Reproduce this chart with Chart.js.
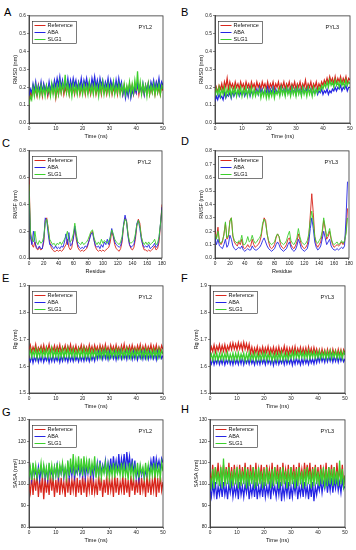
<!DOCTYPE html>
<html>
<head>
<meta charset="utf-8">
<script src="https://cdn.jsdelivr.net/npm/chart.js@4.4.1/dist/chart.umd.min.js"></script>
<style>
  body { margin: 0; width: 356px; height: 550px; background: #fff; position: relative; overflow: hidden;
         font-family: "Liberation Sans", Arial, sans-serif; }
  canvas { position: absolute; }
  .tag { position: absolute; font-size: 11px; line-height: 12px; color: #000; }
</style>
</head>
<body>
<div class="tag" style="left:4px;top:6px">A</div>
<div class="tag" style="left:181px;top:6px">B</div>
<div class="tag" style="left:2px;top:137px">C</div>
<div class="tag" style="left:181px;top:135px">D</div>
<div class="tag" style="left:2px;top:272px">E</div>
<div class="tag" style="left:181px;top:272px">F</div>
<div class="tag" style="left:2px;top:406px">G</div>
<div class="tag" style="left:181px;top:403px">H</div>
<script>
// Series names / colours
var seriesNames = ['Reference', 'ABA', 'SLG1'];
var seriesColors = ['#d8261c', '#2424e4', '#3ccf2c'];

// Time axis (ns)
var timeNs = [0,0.5,1,1.5,2,2.5,3,3.5,4,4.5,5,5.5,6,6.5,7,7.5,8,8.5,9,9.5,
  10,10.5,11,11.5,12,12.5,13,13.5,14,14.5,15,15.5,16,16.5,17,17.5,18,18.5,19,19.5,
  20,20.5,21,21.5,22,22.5,23,23.5,24,24.5,25,25.5,26,26.5,27,27.5,28,28.5,29,29.5,
  30,30.5,31,31.5,32,32.5,33,33.5,34,34.5,35,35.5,36,36.5,37,37.5,38,38.5,39,39.5,
  40,40.5,41,41.5,42,42.5,43,43.5,44,44.5,45,45.5,46,46.5,47,47.5,48,48.5,49,49.5,50];

// Residue axes
var residC = [0,2,4,6,8,10,12,14,16,18,20,22,24,26,28,30,32,34,36,38,40,42,44,46,48,50,
  52,54,56,58,60,62,64,66,68,70,72,74,76,78,80,82,84,86,88,90,92,94,96,98,100,102,104,
  106,108,110,112,114,116,118,120,122,124,126,128,130,132,134,136,138,140,142,144,146,
  148,150,152,154,156,158,160,162,164,166,168,170,172,174,176,178,180];
var residD = [0,2,4,6,8,10,12,14,16,18,20,22,24,26,28,30,32,34,36,38,40,42,44,46,48,50,
  52,54,56,58,60,62,64,66,68,70,72,74,76,78,80,82,84,86,88,90,92,94,96,98,100,102,104,
  106,108,110,112,114,116,118,120,122,124,126,128,130,132,134,136,138,140,142,144,146,
  148,150,152,154,156,158,160,162,164,166,168,170,172,174,176,178];

// A: RMSD PYL2
var rmsdPyl2Ref = [0.10,0.17,0.15,0.20,0.16,0.19,0.15,0.21,0.16,0.20,
  0.15,0.21,0.17,0.20,0.15,0.19,0.16,0.21,0.17,0.20,
  0.14,0.20,0.16,0.21,0.17,0.22,0.16,0.20,0.17,0.21,
  0.16,0.22,0.17,0.20,0.16,0.21,0.17,0.22,0.16,0.20,
  0.17,0.21,0.16,0.22,0.17,0.20,0.16,0.21,0.17,0.22,
  0.16,0.20,0.17,0.21,0.16,0.22,0.17,0.20,0.16,0.21,
  0.17,0.22,0.16,0.20,0.17,0.21,0.16,0.22,0.17,0.20,
  0.16,0.21,0.17,0.20,0.16,0.22,0.17,0.21,0.16,0.20,
  0.17,0.22,0.16,0.21,0.17,0.20,0.16,0.21,0.17,0.22,
  0.16,0.20,0.17,0.21,0.16,0.22,0.17,0.20,0.16,0.21,0.18];
var rmsdPyl2Aba = [0.15,0.19,0.17,0.22,0.18,0.23,0.17,0.21,0.18,0.23,
  0.17,0.22,0.18,0.21,0.17,0.23,0.18,0.22,0.19,0.24,
  0.20,0.25,0.21,0.26,0.20,0.24,0.19,0.23,0.20,0.25,
  0.19,0.24,0.20,0.25,0.21,0.24,0.19,0.23,0.20,0.25,
  0.19,0.24,0.21,0.25,0.20,0.23,0.19,0.25,0.21,0.26,
  0.20,0.24,0.19,0.25,0.21,0.24,0.19,0.23,0.20,0.25,
  0.19,0.24,0.20,0.23,0.18,0.24,0.19,0.25,0.20,0.23,
  0.16,0.20,0.14,0.19,0.15,0.21,0.14,0.18,0.16,0.20,
  0.17,0.22,0.18,0.21,0.17,0.22,0.16,0.21,0.18,0.22,
  0.18,0.23,0.20,0.24,0.19,0.23,0.20,0.25,0.19,0.23,0.21];
var rmsdPyl2Slg = [0.10,0.15,0.13,0.20,0.15,0.21,0.16,0.20,0.15,0.21,
  0.16,0.20,0.15,0.21,0.17,0.20,0.15,0.22,0.16,0.21,
  0.15,0.21,0.16,0.23,0.17,0.22,0.18,0.27,0.17,0.22,
  0.16,0.21,0.15,0.22,0.17,0.21,0.16,0.22,0.17,0.21,
  0.16,0.22,0.17,0.21,0.16,0.23,0.17,0.21,0.16,0.22,
  0.17,0.21,0.15,0.22,0.17,0.23,0.16,0.21,0.17,0.22,
  0.16,0.21,0.17,0.23,0.16,0.21,0.17,0.22,0.16,0.21,
  0.17,0.22,0.16,0.21,0.17,0.23,0.16,0.22,0.17,0.24,
  0.18,0.29,0.17,0.23,0.16,0.22,0.17,0.21,0.15,0.22,
  0.16,0.21,0.17,0.22,0.16,0.21,0.17,0.22,0.16,0.21,0.19];

// B: RMSD PYL3
var rmsdPyl3Ref = [0.16,0.20,0.17,0.21,0.19,0.22,0.18,0.23,0.20,0.25,
  0.19,0.23,0.20,0.22,0.19,0.23,0.20,0.22,0.19,0.23,
  0.20,0.22,0.19,0.23,0.20,0.22,0.19,0.23,0.20,0.22,
  0.19,0.23,0.20,0.22,0.19,0.23,0.20,0.22,0.19,0.23,
  0.19,0.22,0.20,0.23,0.19,0.22,0.20,0.23,0.19,0.22,
  0.20,0.23,0.19,0.22,0.20,0.23,0.19,0.22,0.20,0.23,
  0.19,0.22,0.20,0.23,0.19,0.22,0.20,0.24,0.19,0.22,
  0.20,0.23,0.19,0.22,0.20,0.23,0.19,0.22,0.20,0.23,
  0.21,0.24,0.22,0.25,0.22,0.26,0.23,0.25,0.22,0.26,
  0.22,0.25,0.23,0.26,0.22,0.25,0.23,0.26,0.22,0.25,0.24];
var rmsdPyl3Aba = [0.12,0.15,0.13,0.16,0.14,0.15,0.13,0.17,0.14,0.16,
  0.15,0.17,0.14,0.18,0.15,0.17,0.16,0.18,0.15,0.17,
  0.16,0.18,0.15,0.17,0.16,0.19,0.15,0.18,0.16,0.17,
  0.17,0.19,0.16,0.20,0.17,0.19,0.16,0.18,0.17,0.20,
  0.16,0.19,0.17,0.20,0.16,0.19,0.17,0.18,0.16,0.20,
  0.17,0.19,0.16,0.20,0.17,0.19,0.16,0.20,0.17,0.19,
  0.16,0.20,0.17,0.19,0.16,0.20,0.17,0.19,0.18,0.20,
  0.17,0.19,0.16,0.18,0.17,0.19,0.16,0.18,0.17,0.19,
  0.16,0.18,0.17,0.19,0.16,0.18,0.17,0.19,0.18,0.20,
  0.18,0.20,0.19,0.21,0.18,0.20,0.19,0.21,0.18,0.20,0.20];
var rmsdPyl3Slg = [0.15,0.19,0.16,0.20,0.15,0.19,0.16,0.20,0.15,0.19,
  0.16,0.20,0.15,0.19,0.16,0.20,0.15,0.19,0.16,0.20,
  0.15,0.19,0.16,0.20,0.15,0.19,0.16,0.20,0.15,0.19,
  0.15,0.18,0.16,0.19,0.14,0.18,0.15,0.19,0.14,0.18,
  0.14,0.18,0.15,0.19,0.14,0.18,0.16,0.19,0.15,0.20,
  0.16,0.19,0.15,0.20,0.16,0.19,0.15,0.20,0.16,0.19,
  0.15,0.20,0.16,0.19,0.15,0.20,0.16,0.19,0.15,0.20,
  0.16,0.19,0.15,0.20,0.16,0.19,0.17,0.20,0.18,0.21,
  0.19,0.22,0.20,0.23,0.20,0.24,0.21,0.23,0.20,0.24,
  0.21,0.23,0.20,0.24,0.21,0.23,0.20,0.24,0.21,0.23,0.22];

// C: RMSF PYL2
var rmsfPyl2Ref = [0.60,0.20,0.10,0.08,0.12,0.07,0.06,0.08,0.06,0.07,
  0.12,0.28,0.30,0.22,0.12,0.08,0.06,0.05,0.05,0.06,
  0.05,0.06,0.05,0.06,0.08,0.10,0.14,0.08,0.06,0.08,
  0.16,0.22,0.14,0.08,0.06,0.05,0.06,0.05,0.06,0.07,
  0.10,0.15,0.19,0.20,0.14,0.08,0.06,0.05,0.06,0.05,
  0.06,0.05,0.06,0.07,0.08,0.12,0.20,0.16,0.10,0.07,
  0.06,0.05,0.07,0.12,0.24,0.30,0.28,0.18,0.10,0.07,
  0.06,0.08,0.14,0.24,0.29,0.26,0.16,0.09,0.06,0.06,
  0.05,0.06,0.05,0.06,0.07,0.09,0.06,0.07,0.12,0.25,0.40];
var rmsfPyl2Aba = [0.50,0.15,0.10,0.20,0.12,0.08,0.07,0.09,0.07,0.07,
  0.14,0.30,0.28,0.18,0.10,0.10,0.08,0.07,0.09,0.07,
  0.08,0.07,0.09,0.08,0.12,0.18,0.10,0.19,0.09,0.10,
  0.14,0.24,0.16,0.10,0.08,0.07,0.08,0.07,0.09,0.08,
  0.11,0.14,0.18,0.19,0.13,0.09,0.08,0.09,0.07,0.10,
  0.08,0.12,0.10,0.14,0.10,0.16,0.22,0.17,0.12,0.10,
  0.09,0.08,0.09,0.14,0.25,0.32,0.27,0.16,0.10,0.08,
  0.09,0.10,0.16,0.26,0.28,0.22,0.14,0.10,0.08,0.09,
  0.08,0.10,0.07,0.08,0.09,0.11,0.08,0.09,0.15,0.26,0.38];
var rmsfPyl2Slg = [0.55,0.18,0.14,0.12,0.20,0.12,0.10,0.13,0.11,0.12,
  0.16,0.26,0.29,0.22,0.14,0.12,0.10,0.11,0.09,0.11,
  0.10,0.12,0.10,0.12,0.14,0.16,0.20,0.13,0.12,0.14,
  0.18,0.26,0.18,0.12,0.11,0.10,0.12,0.10,0.11,0.12,
  0.14,0.17,0.20,0.21,0.15,0.12,0.10,0.12,0.10,0.14,
  0.11,0.13,0.12,0.11,0.13,0.15,0.21,0.18,0.14,0.12,
  0.11,0.10,0.12,0.16,0.24,0.29,0.27,0.18,0.12,0.11,
  0.12,0.13,0.18,0.25,0.28,0.24,0.16,0.12,0.10,0.12,
  0.10,0.12,0.10,0.11,0.12,0.14,0.10,0.11,0.16,0.26,0.36];

// D: RMSF PYL3
var rmsfPyl3Ref = [0.20,0.15,0.23,0.12,0.10,0.12,0.18,0.26,0.14,0.16,
  0.28,0.30,0.16,0.12,0.10,0.09,0.12,0.10,0.14,0.08,
  0.07,0.08,0.10,0.08,0.09,0.14,0.10,0.08,0.09,0.10,
  0.12,0.16,0.24,0.30,0.28,0.18,0.12,0.08,0.07,0.08,
  0.10,0.15,0.18,0.16,0.10,0.08,0.07,0.08,0.10,0.14,
  0.15,0.10,0.08,0.07,0.09,0.12,0.18,0.14,0.10,0.08,
  0.07,0.08,0.10,0.16,0.32,0.48,0.34,0.16,0.10,0.08,
  0.10,0.12,0.18,0.28,0.22,0.14,0.16,0.20,0.14,0.10,
  0.08,0.09,0.10,0.09,0.10,0.12,0.10,0.12,0.20,0.37];
var rmsfPyl3Aba = [0.15,0.10,0.14,0.09,0.08,0.07,0.10,0.14,0.08,0.10,
  0.17,0.14,0.09,0.07,0.06,0.07,0.08,0.07,0.09,0.06,
  0.05,0.06,0.07,0.06,0.06,0.09,0.07,0.06,0.06,0.07,
  0.08,0.10,0.13,0.15,0.12,0.09,0.07,0.06,0.05,0.06,
  0.07,0.10,0.12,0.10,0.07,0.06,0.05,0.06,0.07,0.10,
  0.12,0.08,0.06,0.05,0.06,0.09,0.14,0.11,0.07,0.06,
  0.05,0.06,0.07,0.12,0.22,0.30,0.22,0.12,0.08,0.06,
  0.07,0.09,0.14,0.20,0.15,0.10,0.12,0.14,0.09,0.07,
  0.06,0.06,0.07,0.06,0.07,0.08,0.07,0.09,0.30,0.57];
var rmsfPyl3Slg = [0.18,0.14,0.20,0.12,0.11,0.13,0.17,0.27,0.15,0.17,
  0.27,0.30,0.17,0.13,0.12,0.11,0.13,0.12,0.17,0.10,
  0.10,0.12,0.16,0.12,0.13,0.17,0.13,0.11,0.12,0.14,
  0.15,0.18,0.26,0.29,0.26,0.18,0.13,0.11,0.10,0.11,
  0.12,0.16,0.18,0.16,0.12,0.11,0.10,0.11,0.13,0.17,
  0.20,0.13,0.11,0.10,0.12,0.15,0.22,0.16,0.12,0.11,
  0.10,0.11,0.13,0.18,0.28,0.35,0.27,0.16,0.12,0.11,
  0.13,0.15,0.20,0.30,0.23,0.16,0.18,0.22,0.15,0.11,
  0.10,0.11,0.12,0.10,0.11,0.13,0.11,0.13,0.18,0.30];

// E: Rg PYL2
var rgPyl2Ref = [1.660,1.678,1.652,1.672,1.657,1.681,1.650,1.670,1.659,1.676,
  1.654,1.679,1.651,1.673,1.658,1.682,1.653,1.671,1.657,1.677,
  1.652,1.674,1.656,1.680,1.651,1.672,1.658,1.678,1.653,1.675,
  1.657,1.681,1.652,1.673,1.656,1.677,1.650,1.671,1.658,1.679,
  1.653,1.676,1.657,1.672,1.651,1.680,1.655,1.674,1.652,1.678,
  1.656,1.673,1.650,1.679,1.657,1.675,1.652,1.681,1.655,1.672,
  1.651,1.678,1.656,1.674,1.653,1.680,1.657,1.671,1.652,1.677,
  1.655,1.682,1.651,1.673,1.658,1.676,1.653,1.679,1.656,1.672,
  1.652,1.677,1.657,1.681,1.651,1.674,1.656,1.678,1.653,1.673,
  1.657,1.680,1.652,1.675,1.655,1.679,1.651,1.672,1.656,1.677,1.662];
var rgPyl2Aba = [1.630,1.618,1.638,1.613,1.635,1.620,1.640,1.615,1.636,1.619,
  1.641,1.616,1.634,1.621,1.639,1.614,1.637,1.618,1.642,1.617,
  1.635,1.620,1.640,1.615,1.638,1.619,1.643,1.621,1.636,1.616,
  1.641,1.620,1.637,1.618,1.642,1.622,1.636,1.617,1.640,1.621,
  1.638,1.619,1.643,1.622,1.637,1.618,1.641,1.623,1.639,1.620,
  1.648,1.627,1.652,1.630,1.647,1.626,1.654,1.629,1.649,1.625,
  1.653,1.631,1.646,1.628,1.651,1.624,1.648,1.630,1.655,1.627,
  1.645,1.629,1.650,1.626,1.653,1.631,1.647,1.625,1.652,1.628,
  1.649,1.624,1.646,1.630,1.651,1.627,1.654,1.629,1.648,1.626,
  1.652,1.630,1.647,1.628,1.650,1.625,1.653,1.631,1.646,1.629,1.640];
var rgPyl2Slg = [1.640,1.662,1.633,1.658,1.637,1.665,1.631,1.660,1.636,1.664,
  1.634,1.659,1.638,1.666,1.632,1.661,1.636,1.668,1.633,1.660,
  1.637,1.663,1.631,1.659,1.635,1.665,1.632,1.661,1.638,1.667,
  1.634,1.660,1.636,1.664,1.631,1.658,1.637,1.663,1.633,1.661,
  1.636,1.666,1.632,1.660,1.635,1.664,1.631,1.659,1.637,1.662,
  1.633,1.658,1.636,1.663,1.632,1.660,1.638,1.665,1.634,1.659,
  1.631,1.662,1.635,1.658,1.637,1.664,1.633,1.660,1.636,1.663,
  1.632,1.659,1.637,1.665,1.634,1.661,1.631,1.658,1.636,1.662,
  1.633,1.660,1.638,1.664,1.632,1.659,1.635,1.663,1.631,1.661,
  1.636,1.658,1.633,1.662,1.637,1.660,1.632,1.664,1.635,1.659,1.645];

// F: Rg PYL3
var rgPyl3Ref = [1.650,1.672,1.655,1.679,1.652,1.675,1.658,1.681,1.654,1.677,
  1.656,1.680,1.653,1.676,1.660,1.684,1.662,1.687,1.664,1.683,
  1.661,1.688,1.665,1.685,1.660,1.689,1.663,1.684,1.659,1.682,
  1.648,1.671,1.645,1.668,1.650,1.673,1.644,1.667,1.649,1.672,
  1.646,1.669,1.651,1.674,1.645,1.667,1.648,1.671,1.643,1.668,
  1.647,1.672,1.644,1.666,1.650,1.675,1.646,1.669,1.642,1.667,
  1.648,1.670,1.645,1.673,1.643,1.666,1.649,1.671,1.644,1.668,
  1.647,1.669,1.642,1.672,1.646,1.667,1.643,1.670,1.648,1.665,
  1.640,1.662,1.637,1.664,1.642,1.660,1.636,1.663,1.641,1.661,
  1.638,1.664,1.643,1.660,1.637,1.663,1.640,1.661,1.636,1.662,1.650];
var rgPyl3Aba = [1.620,1.608,1.628,1.606,1.625,1.610,1.630,1.607,1.626,1.609,
  1.629,1.605,1.624,1.611,1.631,1.608,1.627,1.606,1.630,1.610,
  1.625,1.607,1.629,1.609,1.632,1.606,1.626,1.611,1.628,1.608,
  1.631,1.610,1.624,1.605,1.629,1.609,1.627,1.607,1.630,1.611,
  1.626,1.606,1.632,1.610,1.625,1.608,1.629,1.603,1.627,1.609,
  1.630,1.607,1.624,1.611,1.628,1.606,1.631,1.609,1.626,1.610,
  1.629,1.604,1.627,1.608,1.632,1.610,1.625,1.605,1.628,1.609,
  1.631,1.611,1.626,1.607,1.630,1.612,1.627,1.609,1.633,1.613,
  1.635,1.616,1.638,1.618,1.634,1.615,1.639,1.617,1.636,1.619,
  1.640,1.616,1.635,1.618,1.638,1.615,1.637,1.619,1.634,1.617,1.628];
var rgPyl3Slg = [1.630,1.645,1.622,1.648,1.625,1.650,1.621,1.646,1.626,1.649,
  1.623,1.647,1.627,1.651,1.622,1.645,1.625,1.649,1.621,1.648,
  1.626,1.650,1.623,1.646,1.627,1.649,1.620,1.647,1.624,1.651,
  1.622,1.645,1.626,1.650,1.621,1.648,1.625,1.646,1.623,1.649,
  1.627,1.651,1.622,1.647,1.626,1.650,1.620,1.646,1.624,1.649,
  1.621,1.648,1.626,1.652,1.623,1.647,1.627,1.650,1.622,1.648,
  1.630,1.653,1.628,1.656,1.632,1.651,1.629,1.655,1.633,1.652,
  1.628,1.654,1.631,1.657,1.629,1.652,1.634,1.655,1.630,1.653,
  1.632,1.656,1.629,1.652,1.633,1.655,1.628,1.654,1.631,1.657,
  1.629,1.653,1.634,1.656,1.630,1.652,1.632,1.655,1.628,1.654,1.642];

// G: SASA PYL2
var sasaPyl2Ref = [100,96,104,95,103,97,105,94,102,96,
  104,93,103,96,102,95,105,97,103,94,
  102,96,104,95,103,97,101,94,104,96,
  103,95,102,97,104,94,103,96,102,95,
  104,96,103,94,102,97,105,95,103,96,
  101,95,104,97,103,94,102,96,104,95,
  103,97,102,94,104,96,103,95,101,97,
  104,95,103,96,102,94,104,97,103,95,
  102,96,104,95,103,97,102,94,104,96,
  103,95,102,97,105,94,103,96,104,97,101];
var sasaPyl2Aba = [103,107,102,108,104,106,103,108,102,107,
  104,108,103,107,102,108,104,106,103,108,
  104,109,103,108,105,109,103,107,104,109,
  103,108,104,109,103,107,105,109,104,108,
  104,109,103,108,105,110,104,108,103,109,
  105,110,104,111,105,109,106,111,104,110,
  106,112,105,113,107,111,105,114,106,112,
  107,114,106,115,108,113,106,112,105,111,
  103,107,102,108,104,107,103,106,104,108,
  106,111,107,113,106,112,108,111,107,112,110];
var sasaPyl2Slg = [103,108,102,110,104,109,103,107,105,110,
  103,109,104,108,102,110,104,109,103,108,
  104,110,103,109,105,110,104,108,103,111,
  104,112,105,114,104,111,106,113,105,112,
  104,113,106,111,105,112,104,110,106,113,
  103,109,104,110,103,108,105,110,104,109,
  103,108,104,110,103,109,105,108,104,110,
  103,109,104,108,102,110,104,109,103,108,
  104,110,103,109,105,108,103,110,104,109,
  103,108,104,110,103,109,104,108,103,110,106];

// H: SASA PYL3
var sasaPyl3Ref = [105,101,109,100,108,102,110,101,107,102,
  109,100,108,102,110,101,108,100,109,102,
  107,101,109,100,108,102,110,101,108,100,
  109,102,108,101,110,100,107,102,109,101,
  108,100,109,102,107,101,110,100,108,102,
  109,101,108,100,110,102,107,101,109,100,
  108,102,109,101,108,100,110,102,107,101,
  110,102,109,103,110,101,108,102,109,101,
  108,100,109,102,107,101,110,100,108,102,
  109,101,108,100,110,102,107,101,109,100,104];
var sasaPyl3Aba = [98,94,100,95,101,93,99,95,100,94,
  101,95,99,93,100,96,101,94,99,95,
  100,93,101,95,99,94,100,96,101,93,
  99,95,100,94,101,93,99,95,100,94,
  101,94,99,95,100,93,101,96,99,94,
  100,95,101,92,99,94,100,95,101,93,
  99,94,100,96,101,93,99,95,100,94,
  101,95,99,93,100,94,101,92,99,95,
  100,97,102,96,101,98,103,96,102,97,
  103,96,102,98,103,97,101,96,102,98,99];
var sasaPyl3Slg = [103,99,107,98,108,100,106,99,108,98,
  112,99,107,100,108,98,106,99,107,100,
  108,98,107,99,106,100,108,98,107,99,
  106,100,108,98,107,99,108,100,106,98,
  107,99,108,100,106,98,107,99,108,100,
  106,98,107,99,108,100,106,98,107,99,
  108,100,106,98,107,99,108,100,106,98,
  107,99,108,100,106,98,107,99,108,100,
  106,99,107,100,108,98,107,99,108,100,
  107,99,108,100,106,99,111,100,107,99,104];

var FONT = '"Liberation Sans", Arial, sans-serif';

// Dibuja el recuadro de leyenda, la etiqueta PYL y el marco del area de trazado.
var panelDecor = {
    id: 'panelDecor',
    afterDatasetsDraw: function (chart, args, opts) {
        var ctx = chart.ctx;
        var a = chart.chartArea;
        ctx.save();
        // marco
        ctx.strokeStyle = '#333';
        ctx.lineWidth = 0.8;
        ctx.strokeRect(a.left, a.top, a.right - a.left, a.bottom - a.top);
        // leyenda
        var lx = Math.round(a.left + 3) + 0.5, ly = Math.round(a.top + 5) + 0.5;
        ctx.fillStyle = '#fff';
        ctx.fillRect(lx, ly, 44, 22);
        ctx.lineWidth = 0.6;
        ctx.strokeStyle = '#222';
        ctx.strokeRect(lx, ly, 44, 22);
        ctx.font = '5.5px ' + FONT;
        ctx.textBaseline = 'middle';
        ctx.textAlign = 'left';
        chart.data.datasets.forEach(function (ds, i) {
            var ry = ly + 4 + i * 7;
            ctx.strokeStyle = ds.borderColor;
            ctx.lineWidth = 1;
            ctx.beginPath();
            ctx.moveTo(lx + 2, ry);
            ctx.lineTo(lx + 13, ry);
            ctx.stroke();
            ctx.fillStyle = '#111';
            ctx.fillText(ds.label, lx + 15, ry);
        });
        // etiqueta de la proteina
        ctx.textAlign = 'right';
        ctx.font = '5.5px ' + FONT;
        ctx.fillText(opts.tag, a.right - 11, a.top + 12);
        ctx.restore();
    }
};

// Crea una grafica en la caja indicada (coordenadas del area de trazado).
function buildPanel(box, cfg) {
    var yAxisW = 20, padTop = 3, padRight = 4, xAxisH = 18;
    var cv = document.createElement('canvas');
    cv.width = box.x1 - box.x0 + yAxisW + padRight;
    cv.height = box.y1 - box.y0 + padTop + xAxisH;
    cv.style.left = (box.x0 - yAxisW) + 'px';
    cv.style.top = (box.y0 - padTop) + 'px';
    document.body.appendChild(cv);

    var datasets = cfg.series.map(function (vals, i) {
        return {
            label: seriesNames[i],
            data: vals,
            borderColor: seriesColors[i],
            borderWidth: cfg.lineW,
            pointRadius: 0,
            tension: 0,
            order: 3 - i
        };
    });

    var tickFont = { size: 4.8, family: FONT };
    var titleFont = { size: 5.5, family: FONT };
    var gridOpts = { drawOnChartArea: false, drawTicks: true, tickLength: 2, color: '#333', lineWidth: 0.6 };

    return new Chart(cv.getContext('2d'), {
        type: 'line',
        data: { labels: cfg.xValues, datasets: datasets },
        options: {
            responsive: false,
            animation: false,
            events: [],
            layout: { padding: { top: padTop, right: padRight, left: 0, bottom: 0 } },
            plugins: {
                legend: { display: false },
                tooltip: { enabled: false },
                panelDecor: { tag: cfg.tag }
            },
            scales: {
                x: {
                    type: 'linear',
                    min: cfg.xMin, max: cfg.xMax,
                    ticks: {
                        stepSize: cfg.xStep, font: tickFont, color: '#222', padding: 1,
                        maxRotation: 0, autoSkip: false,
                        callback: function (v) { return String(Math.round(v)); }
                    },
                    grid: gridOpts,
                    border: { display: true, color: '#333', width: 0.8 },
                    title: { display: true, text: cfg.xTitle, font: titleFont, color: '#111', padding: { top: 1, bottom: 1 } },
                    afterFit: function (s) { s.height = xAxisH; }
                },
                y: {
                    min: cfg.yMin, max: cfg.yMax,
                    ticks: {
                        stepSize: cfg.yStep, font: tickFont, color: '#222', padding: 1, autoSkip: false,
                        callback: function (v) { return Number(v).toFixed(cfg.yDec); }
                    },
                    grid: gridOpts,
                    border: { display: true, color: '#333', width: 0.8 },
                    title: { display: true, text: cfg.yTitle, font: titleFont, color: '#111', padding: { top: 3, bottom: 0 } },
                    afterFit: function (s) { s.width = yAxisW; }
                }
            }
        },
        plugins: [panelDecor]
    });
}

var timeAxis = { xValues: timeNs, xMin: 0, xMax: 50, xStep: 10, xTitle: 'Time (ns)', lineW: 1.25 };

function extend(base, more) {
    var o = {};
    Object.keys(base).forEach(function (k) { o[k] = base[k]; });
    Object.keys(more).forEach(function (k) { o[k] = more[k]; });
    return o;
}

buildPanel({ x0: 29, y0: 15, x1: 163, y1: 123 }, extend(timeAxis, {
    tag: 'PYL2', yMin: 0, yMax: 0.6, yStep: 0.1, yDec: 1, yTitle: 'RMSD (nm)',
    series: [rmsdPyl2Ref, rmsdPyl2Aba, rmsdPyl2Slg]
}));
buildPanel({ x0: 215, y0: 15, x1: 350, y1: 123 }, extend(timeAxis, {
    tag: 'PYL3', yMin: 0, yMax: 0.6, yStep: 0.1, yDec: 1, yTitle: 'RMSD (nm)',
    series: [rmsdPyl3Ref, rmsdPyl3Aba, rmsdPyl3Slg]
}));
buildPanel({ x0: 29, y0: 150, x1: 163, y1: 258 }, {
    xValues: residC, xMin: 0, xMax: 180, xStep: 20, xTitle: 'Residue', lineW: 0.9,
    tag: 'PYL2', yMin: 0, yMax: 0.8, yStep: 0.2, yDec: 1, yTitle: 'RMSF (nm)',
    series: [rmsfPyl2Ref, rmsfPyl2Aba, rmsfPyl2Slg]
});
buildPanel({ x0: 215, y0: 150, x1: 350, y1: 258 }, {
    xValues: residD, xMin: 0, xMax: 180, xStep: 20, xTitle: 'Residue', lineW: 0.9,
    tag: 'PYL3', yMin: 0, yMax: 0.8, yStep: 0.1, yDec: 1, yTitle: 'RMSF (nm)',
    series: [rmsfPyl3Ref, rmsfPyl3Aba, rmsfPyl3Slg]
});
buildPanel({ x0: 29, y0: 285, x1: 163, y1: 393 }, extend(timeAxis, {
    tag: 'PYL2', yMin: 1.5, yMax: 1.9, yStep: 0.1, yDec: 1, yTitle: 'Rg (nm)',
    series: [rgPyl2Ref, rgPyl2Aba, rgPyl2Slg]
}));
buildPanel({ x0: 210, y0: 285, x1: 345, y1: 393 }, extend(timeAxis, {
    tag: 'PYL3', yMin: 1.5, yMax: 1.9, yStep: 0.1, yDec: 1, yTitle: 'Rg (nm)',
    series: [rgPyl3Ref, rgPyl3Aba, rgPyl3Slg]
}));
buildPanel({ x0: 29, y0: 419, x1: 163, y1: 527 }, extend(timeAxis, {
    tag: 'PYL2', yMin: 80, yMax: 130, yStep: 10, yDec: 0, yTitle: 'SASA (nm²)',
    series: [sasaPyl2Ref, sasaPyl2Aba, sasaPyl2Slg]
}));
buildPanel({ x0: 210, y0: 419, x1: 345, y1: 527 }, extend(timeAxis, {
    tag: 'PYL3', yMin: 80, yMax: 130, yStep: 10, yDec: 0, yTitle: 'SASA (nm)',
    series: [sasaPyl3Ref, sasaPyl3Aba, sasaPyl3Slg]
}));
</script>
</body>
</html>
